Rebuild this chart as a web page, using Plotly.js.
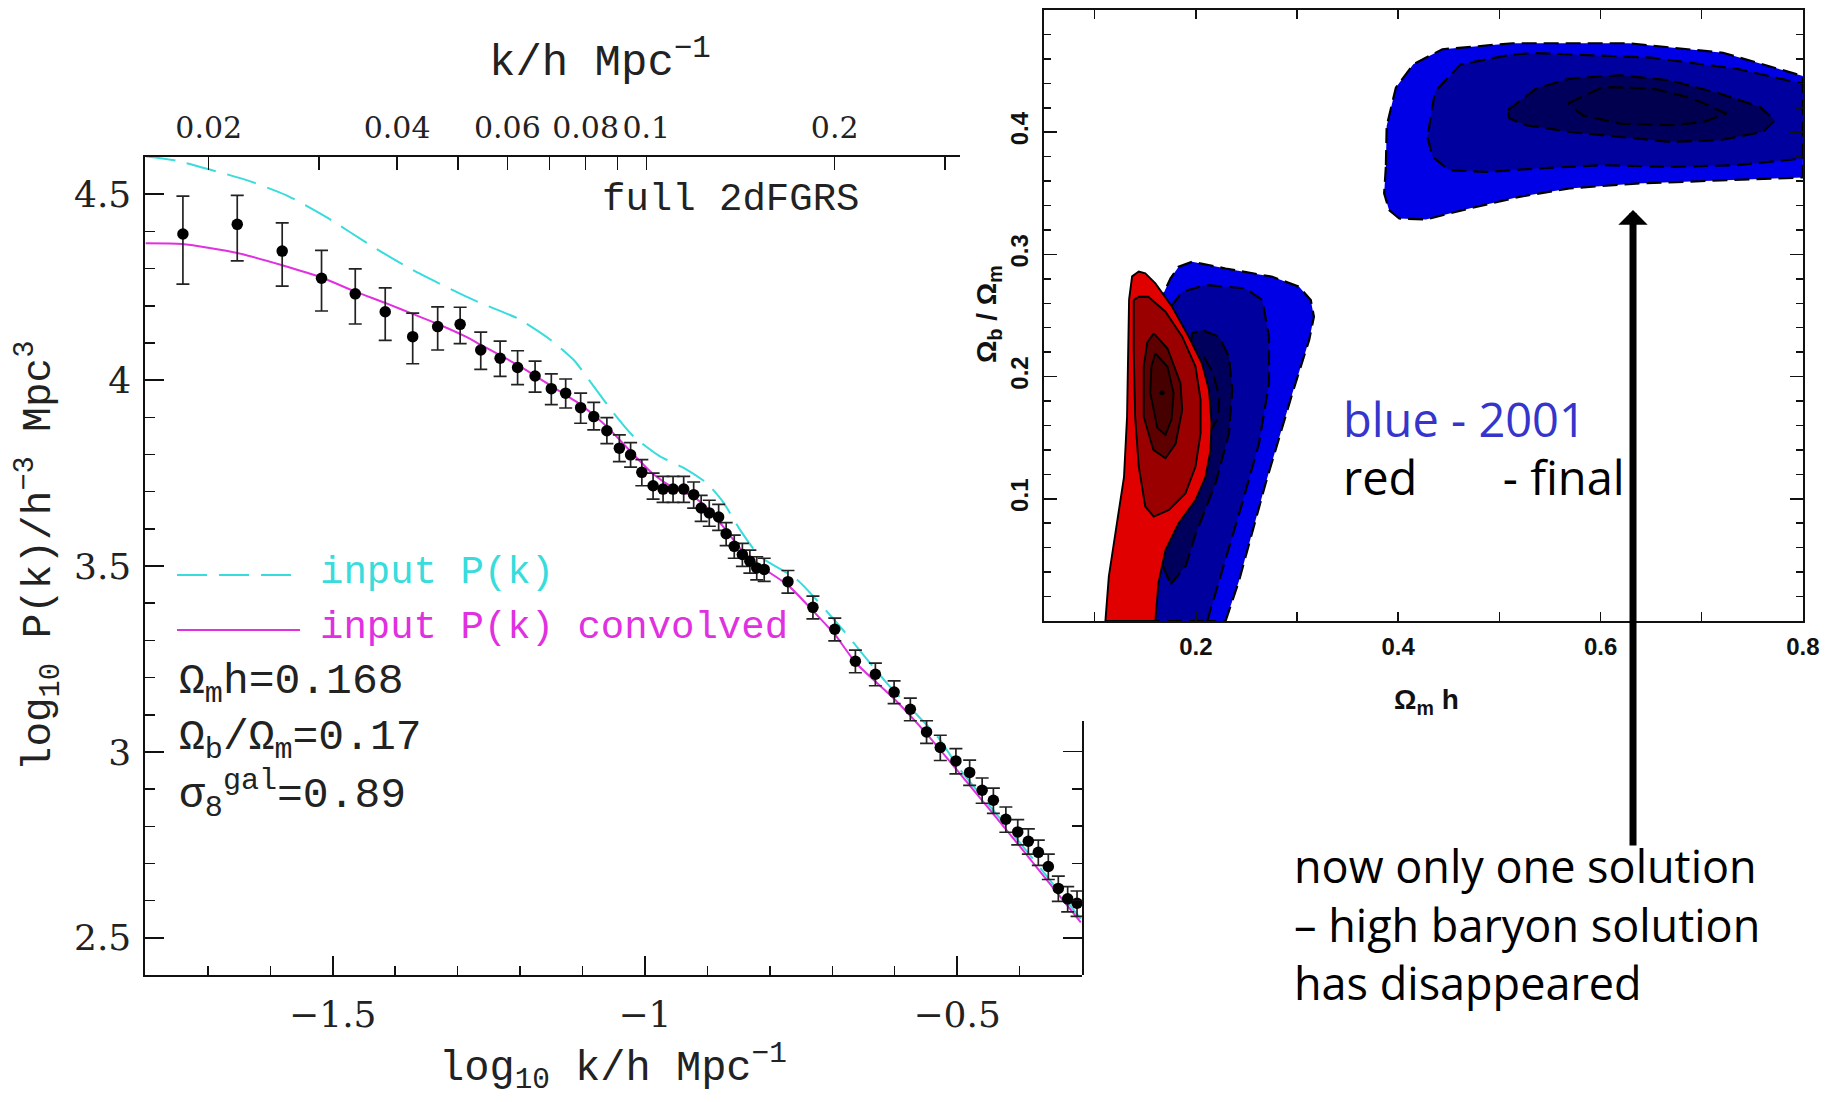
<!DOCTYPE html>
<html>
<head>
<meta charset="utf-8">
<script src="https://cdn.plot.ly/plotly-3.0.1.min.js"></script>
<style>html,body{margin:0;padding:0;background:#fff;}#chart{width:1825px;height:1102px;}</style>
</head>
<body>
<div id="chart"></div>
<script>
// ---------------- Left panel: 2dFGRS power spectrum ----------------
const logK = [-1.740,-1.653,-1.581,-1.518,-1.464,-1.416,-1.372,-1.332,-1.296,-1.263,
  -1.232,-1.204,-1.176,-1.150,-1.127,-1.103,-1.082,-1.061,-1.041,-1.023,
  -1.005,-0.987,-0.971,-0.955,-0.938,-0.922,-0.910,-0.897,-0.882,-0.870,
  -0.857,-0.844,-0.832,-0.821,-0.809,-0.771,-0.731,-0.696,-0.663,-0.631,
  -0.601,-0.575,-0.549,-0.527,-0.502,-0.480,-0.460,-0.442,-0.422,-0.403,
  -0.386,-0.370,-0.354,-0.338,-0.323,-0.308];
const logP = [4.393,4.419,4.347,4.274,4.232,4.184,4.117,4.144,4.150,4.081,
  4.059,4.034,4.011,3.977,3.965,3.926,3.902,3.864,3.817,3.799,
  3.752,3.716,3.707,3.707,3.707,3.692,3.656,3.643,3.632,3.587,
  3.553,3.531,3.513,3.495,3.491,3.458,3.389,3.330,3.244,3.209,
  3.161,3.115,3.054,3.012,2.976,2.945,2.897,2.870,2.819,2.785,
  2.760,2.730,2.692,2.633,2.605,2.593];
const errUp = [.102,.078,.076,.075,.067,.064,.063,.053,.046,.048,
  .046,.045,.040,.040,.038,.039,.038,.035,.036,.033,
  .034,.034,.034,.034,.034,.034,.034,.034,.034,.030,
  .030,.030,.030,.030,.030,.030,.030,.030,.030,.030,
  .030,.030,.030,.033,.033,.033,.033,.033,.033,.033,
  .033,.033,.033,.033,.033,.033];
const errDown = [.135,.098,.094,.088,.081,.077,.073,.063,.052,.052,
  .049,.046,.043,.043,.040,.042,.036,.035,.036,.033,
  .036,.036,.036,.036,.036,.036,.036,.036,.036,.032,
  .032,.032,.032,.032,.032,.031,.031,.031,.031,.031,
  .031,.031,.031,.035,.035,.035,.035,.035,.035,.035,
  .035,.035,.035,.035,.035,.035];

const inputK = [-1.8,-1.75,-1.692,-1.638,-1.574,-1.511,-1.436,-1.372,-1.287,-1.263,-1.204,-1.151,-1.114,-1.082,-1.050,-1.018,-0.976,-0.938,-0.901,-0.874,-0.848,-0.816,-0.757,-0.688,-0.613,-0.528,-0.500,-0.400,-0.302];
const inputP = [4.602,4.590,4.564,4.538,4.497,4.439,4.359,4.296,4.225,4.207,4.166,4.108,4.054,3.983,3.911,3.848,3.795,3.764,3.723,3.670,3.598,3.526,3.464,3.338,3.186,3.034,2.963,2.757,2.551];

const convK = [-1.8,-1.741,-1.653,-1.581,-1.518,-1.464,-1.415,-1.372,-1.332,-1.287,-1.263,-1.204,-1.151,-1.103,-1.061,-1.023,-0.986,-0.954,-0.922,-0.897,-0.870,-0.844,-0.8155,-0.7706,-0.7307,-0.696,-0.6625,-0.601,-0.5486,-0.5016,-0.4005,-0.302];
const convP = [4.368,4.366,4.342,4.309,4.276,4.238,4.207,4.178,4.151,4.117,4.095,4.041,3.985,3.934,3.875,3.808,3.746,3.710,3.686,3.650,3.596,3.540,3.4995,3.448,3.379,3.316,3.240,3.143,3.048,2.954,2.748,2.542];

const bottomTickVals = [-1.5,-1,-0.5];
const bottomTickText = ['\u22121.5','\u22121','\u22120.5'];
const leftTickVals = [2.5,3,3.5,4,4.5];
const leftTickText = ['2.5','3','3.5','4','4.5'];
const rightTickVals = [2.5,3];
const topTickVals = [0.02,0.03,0.04,0.05,0.06,0.07,0.08,0.09,0.1,0.2,0.3];
const topTickText = ['0.02','','0.04','','0.06','','0.08','','0.1','0.2',''];

// ---------------- Right panel: likelihood contours ----------------
const omhTickVals = [0.1,0.2,0.3,0.4,0.5,0.6,0.7,0.8];
const omhTickText = ['','0.2','','0.4','','0.6','','0.8'];
const fbTickVals = [0.1,0.2,0.3,0.4];
const fbTickText = ['0.1','0.2','0.3','0.4'];

// 2001 high-baryon solution (blue)
const blueHigh1 = [[0.3878,0.3716],[0.3861,0.3499],[0.391,0.3362],[0.401,0.3294],[0.4274,0.3286],[0.4703,0.3376],[0.5198,0.3471],[0.5693,0.354],[0.6353,0.358],[0.7013,0.3600],[0.80,0.3630],[0.80,0.446],[0.721,0.465],[0.6282,0.4728],[0.5129,0.4728],[0.4436,0.4679],[0.4149,0.4556],[0.3977,0.4365],[0.3886,0.405]];
const blueHigh2 = [[0.4289,0.3962],[0.4339,0.3799],[0.4505,0.3689],[0.4868,0.3675],[0.5363,0.3703],[0.6023,0.373],[0.6683,0.3716],[0.734,0.373],[0.80,0.3785],[0.80,0.4397],[0.734,0.452],[0.65,0.461],[0.5366,0.4648],[0.5116,0.4636],[0.4614,0.4554],[0.4363,0.433]];
const blueHigh3 = [[0.5082,0.418],[0.5363,0.4357],[0.5693,0.4439],[0.6188,0.4466],[0.6683,0.4425],[0.7178,0.4316],[0.7574,0.4207],[0.7723,0.4098],[0.7607,0.4003],[0.7178,0.3935],[0.6683,0.3921],[0.6188,0.3962],[0.5693,0.4003],[0.5264,0.4057],[0.5099,0.4112]];
const blueHigh4 = [[0.5677,0.4235],[0.6023,0.437],[0.6518,0.4357],[0.69,0.428],[0.7243,0.4153],[0.70,0.408],[0.6683,0.4057],[0.6188,0.4071],[0.5822,0.4139]];
// 2001 low-baryon solution (blue)
const blueLow1 = [[0.2294,0],[0.2426,0.0327],[0.269,0.1127],[0.2954,0.1863],[0.312,0.23],[0.3167,0.249],[0.3136,0.2626],[0.302,0.2735],[0.2756,0.2817],[0.2294,0.2885],[0.1964,0.294],[0.183,0.2899],[0.175,0.2804],[0.168,0.2681],[0.160,0.2],[0.155,0.1],[0.140,0]];
const blueLow2 = [[0.2112,0],[0.2228,0.0327],[0.2458,0.0964],[0.2624,0.1454],[0.2723,0.1945],[0.2723,0.2326],[0.2657,0.2626],[0.249,0.2722],[0.2096,0.2749],[0.1865,0.2694],[0.1766,0.2585],[0.170,0.2],[0.160,0.1],[0.150,0]];
const blueLow3 = [[0.175,0.03],[0.19,0.045],[0.1997,0.0711],[0.2195,0.1127],[0.2327,0.1536],[0.236,0.189],[0.2327,0.2163],[0.2228,0.2327],[0.206,0.2381],[0.1964,0.2354],[0.19,0.2],[0.18,0.1],[0.165,0.05]];
const blueLow4 = [[0.208,0.216],[0.217,0.203],[0.223,0.183],[0.222,0.166],[0.213,0.154]];
// final 2dFGRS result (red)
const red1 = [[0.1106,0],[0.114,0.0365],[0.122,0.080],[0.129,0.118],[0.132,0.167],[0.133,0.222],[0.134,0.263],[0.137,0.282],[0.1436,0.286],[0.150,0.2845],[0.160,0.2763],[0.1765,0.2572],[0.193,0.2326],[0.206,0.2109],[0.213,0.189],[0.2155,0.162],[0.2145,0.140],[0.2096,0.118],[0.1997,0.099],[0.183,0.080],[0.170,0.058],[0.163,0.031],[0.160,0]];
const red2 = [[0.1386,0.2626],[0.1436,0.2653],[0.153,0.2653],[0.170,0.2531],[0.1865,0.2327],[0.1997,0.2082],[0.2047,0.1809],[0.2047,0.1536],[0.1997,0.1264],[0.1898,0.1046],[0.1733,0.0908],[0.1584,0.0855],[0.150,0.0937],[0.1436,0.1264],[0.140,0.1672],[0.1386,0.2218]];
const red3 = [[0.1584,0.2354],[0.172,0.223],[0.1848,0.1945],[0.1865,0.1727],[0.180,0.145],[0.170,0.1332],[0.158,0.14],[0.1485,0.1672],[0.1485,0.2081],[0.152,0.228]];
const red4 = [[0.160,0.219],[0.172,0.208],[0.178,0.1863],[0.176,0.165],[0.170,0.1523],[0.162,0.158],[0.155,0.1863],[0.156,0.208]];
const redPeak = [[0.1666,0.1868]];

const CYAN = '#38dcdc', MAGENTA = '#e030e0';

function region(pts, fillcolor, dashed, closed) {
  const xs = pts.map(p => p[0]), ys = pts.map(p => p[1]);
  if (closed !== false) { xs.push(xs[0]); ys.push(ys[0]); }
  return {
    x: xs, y: ys, xaxis: 'x3', yaxis: 'y3', type: 'scatter', mode: 'lines',
    fill: fillcolor ? 'toself' : 'none', fillcolor: fillcolor || 'rgba(0,0,0,0)',
    line: {color: '#000', width: dashed ? 2.2 : 1.9, dash: dashed ? '15px,7px' : 'solid'},
    hoverinfo: 'skip', showlegend: false
  };
}

const traces = [
  {x: inputK, y: inputP, type: 'scatter', mode: 'lines', line: {color: CYAN, width: 2, dash: '30px,12px', shape: 'spline', smoothing: 0.6}, name: 'input P(k)'},
  {x: convK, y: convP, type: 'scatter', mode: 'lines', line: {color: MAGENTA, width: 2, shape: 'spline', smoothing: 0.6}, name: 'input P(k) convolved'},
  {x: logK, y: logP, type: 'scatter', mode: 'markers', marker: {color: '#000', size: 11.5},
   error_y: {type: 'data', symmetric: false, array: errUp, arrayminus: errDown, color: '#222', thickness: 1.7, width: 6.5}, name: 'full 2dFGRS'},
  region(blueHigh1, '#0000e6', true),
  region(blueHigh2, '#00009e', true),
  region(blueHigh3, '#00005c', true),
  region(blueHigh4, '#00004e', true),
  region(blueLow1, '#0000e6', true),
  region(blueLow2, '#00009e', true),
  region(blueLow3, '#00005c', true),
  region(blueLow4, null, true, false),
  region(red1, '#e00000', false),
  region(red2, '#9a0000', false),
  region(red3, '#5e0000', false),
  region(red4, '#460000', false),
  {x: redPeak.map(p => p[0]), y: redPeak.map(p => p[1]), xaxis: 'x3', yaxis: 'y3', type: 'scatter', mode: 'markers', marker: {color: '#000', size: 5}, hoverinfo: 'skip'},
  // carriers so the partial top k-axis and the partial right-hand axis are drawn (nothing visible)
  {x: topTickVals, y: topTickVals.map(() => null), xaxis: 'x2', yaxis: 'y', type: 'scatter', mode: 'markers', hoverinfo: 'skip', showlegend: false},
  {x: rightTickVals.map(() => null), y: rightTickVals, xaxis: 'x', yaxis: 'y2', type: 'scatter', mode: 'markers', hoverinfo: 'skip', showlegend: false}
];

const serif = 'DejaVu Serif';
const mono = 'Liberation Mono';
const comic = 'Comic Sans MS, Open Sans, sans-serif';
const boldSans = {family: 'Liberation Sans', size: 24, weight: 'bold', color: '#111'};
const boldTitle = {family: 'Liberation Sans', size: 28, weight: 'bold', color: '#111'};

const axCommon = {showgrid: false, zeroline: false, showline: true, linecolor: '#111', tickcolor: '#111', ticks: 'inside'};

function note(x, y, text, font, extra) {
  return Object.assign({xref: 'paper', yref: 'paper', x: x, y: y, text: text, showarrow: false,
    xanchor: 'center', yanchor: 'middle', font: font}, extra || {});
}
const monoFont = (size, color) => ({family: mono, size: size, color: color || '#222'});

const layout = {
  width: 1825, height: 1102, margin: {l: 0, r: 0, t: 0, b: 0},
  paper_bgcolor: '#fff', plot_bgcolor: 'rgba(0,0,0,0)', showlegend: false,
  font: {family: mono, color: '#111'},
  xaxis: Object.assign({}, axCommon, {domain: [0.0797, 0.5929], range: [-1.8, -0.3], anchor: 'y', linewidth: 2,
    ticklen: 19, tickwidth: 1.5, tickvals: bottomTickVals, ticktext: bottomTickText,
    minor: {dtick: 0.1, ticks: 'inside', ticklen: 9, tickwidth: 1.5, tickcolor: '#111', showgrid: false},
    tickfont: {family: serif, size: 36, color: '#222'}, ticklabelstandoff: 7}),
  yaxis: Object.assign({}, axCommon, {domain: [0.1152, 0.8575], range: [2.4, 4.6], anchor: 'x', linewidth: 2,
    ticklen: 19, tickwidth: 1.5, tickvals: leftTickVals, ticktext: leftTickText,
    minor: {dtick: 0.1, ticks: 'inside', ticklen: 10, tickwidth: 1.5, tickcolor: '#111', showgrid: false},
    tickfont: {family: serif, size: 36, color: '#222'}, ticklabelstandoff: 5}),
  xaxis2: Object.assign({}, axCommon, {domain: [0.0797, 0.5260], type: 'log', range: [-1.8, -0.4989], anchor: 'y', side: 'top', linewidth: 2,
    ticklen: 13, tickwidth: 1.5, tickvals: topTickVals, ticktext: topTickText,
    tickfont: {family: serif, size: 30, color: '#222'}, ticklabelstandoff: 5}),
  yaxis2: Object.assign({}, axCommon, {domain: [0.1152, 0.3457], range: [2.4, 3.082], anchor: 'x', side: 'right', linewidth: 2,
    ticklen: 19, tickwidth: 1.5, tickvals: rightTickVals, showticklabels: false,
    minor: {dtick: 0.1, ticks: 'inside', ticklen: 10, tickwidth: 1.5, tickcolor: '#111', showgrid: false}}),
  xaxis3: Object.assign({}, axCommon, {domain: [0.5721, 0.9879], range: [0.05, 0.8], anchor: 'y3', linewidth: 2.5, mirror: 'ticks',
    ticklen: 9, tickwidth: 1.5, tickvals: omhTickVals, ticktext: omhTickText, tickfont: boldSans, ticklabelstandoff: 3}),
  yaxis3: Object.assign({}, axCommon, {domain: [0.4365, 0.9909], range: [0, 0.5], anchor: 'x3', linewidth: 2.5, mirror: 'ticks',
    ticklen: 13, tickwidth: 1.5, tickvals: fbTickVals, ticktext: fbTickText, tickangle: -90, tickfont: boldSans, ticklabelstandoff: 4,
    minor: {dtick: 0.02, ticks: 'inside', ticklen: 7, tickwidth: 1.5, tickcolor: '#111', showgrid: false}}),
  shapes: [
    {type: 'line', xref: 'paper', yref: 'paper', x0: 0.097, x1: 0.1644, y0: 0.4782, y1: 0.4782, line: {color: CYAN, width: 2, dash: '30px,12px'}},
    {type: 'line', xref: 'paper', yref: 'paper', x0: 0.097, x1: 0.1644, y0: 0.4283, y1: 0.4283, line: {color: MAGENTA, width: 2}}
  ],
  annotations: [
    note(0.3288, 0.9456, 'k/h Mpc<sup>\u22121</sup>', monoFont(44)),
    note(0.4718, 0.8185, 'full 2dFGRS', monoFont(39), {xanchor: 'right'}),
    note(0.1742, 0.480, 'input P(k)', monoFont(39, CYAN), {xanchor: 'left'}),
    note(0.1742, 0.4301, 'input P(k) convolved', monoFont(39, MAGENTA), {xanchor: 'left'}),
    note(0.097, 0.3793, '\u03a9<sub>m</sub>h=0.168', monoFont(43), {xanchor: 'left'}),
    note(0.097, 0.3285, '\u03a9<sub>b</sub>/\u03a9<sub>m</sub>=0.17', monoFont(43), {xanchor: 'left'}),
    note(0.097, 0.2786, '\u03c3<sub>8</sub><sup>gal</sup>=0.89', monoFont(43), {xanchor: 'left'}),
    note(0.3359, 0.0309, 'log<sub>10</sub> k/h Mpc<sup>\u22121</sup>', monoFont(42)),
    note(0.0215, 0.4955, 'log<sub>10</sub> P(k)/h<sup>\u22123</sup> Mpc<sup>3</sup>', monoFont(41), {textangle: -90}),
    note(0.5419, 0.7151, '\u03a9<sub>b</sub> / \u03a9<sub>m</sub>', boldTitle, {textangle: -90}),
    note(0.7814, 0.363, '\u03a9<sub>m</sub> h', boldTitle),
    note(0.7348, 0.6198, 'blue - 2001', {family: comic, size: 47, color: '#3535cc'}, {xanchor: 'left'}),
    note(0.7348, 0.5672, 'red\u00a0\u00a0\u00a0\u00a0\u00a0\u00a0\u00a0- final', {family: comic, size: 47, color: '#000'}, {xanchor: 'left'}),
    note(0.708, 0.1615, 'now only one solution<br>\u2013 high baryon solution<br>has disappeared', {family: comic, size: 45, color: '#000'}, {xanchor: 'left', align: 'left'}),
    {xref: 'paper', yref: 'paper', x: 0.8948, y: 0.8094, text: '', showarrow: true, ax: 0, ay: 637, arrowhead: 1, arrowsize: 0.7, arrowwidth: 7, arrowcolor: '#000', standoff: 0}
  ]
};

Plotly.newPlot('chart', traces, layout, {displayModeBar: false, staticPlot: true});
</script>
</body>
</html>
